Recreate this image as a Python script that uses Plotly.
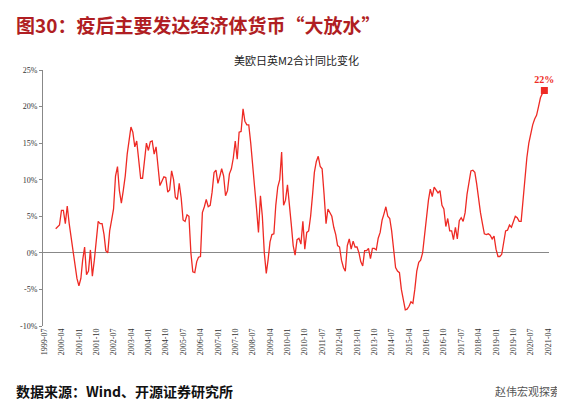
import plotly.graph_objects as go
import pandas as pd

values = [
 3.3,3.5,3.8,5.8,5.8,4.0,6.4,4.0,2.0,0.0,-2.0,-3.5,
 -4.5,-3.5,-1.0,0.8,-3.0,-2.5,0.4,-3.2,-1.0,2.0,4.3,4.0,
 4.0,2.5,0.3,0.0,3.0,4.5,6.0,10.5,11.8,8.5,6.8,8.5,
 10.5,13.5,15.5,17.2,16.5,14.5,15.3,13.0,10.2,10.2,13.0,15.0,
 14.0,15.2,15.3,13.5,14.5,12.0,9.2,9.8,10.4,10.3,8.3,8.6,
 11.2,10.0,7.6,7.3,9.5,7.5,4.5,4.3,5.2,5.0,0.0,-2.6,
 -2.7,-1.2,-0.6,-0.5,5.5,6.3,7.3,6.3,6.5,8.3,11.0,11.3,
 9.5,10.5,11.5,10.5,7.8,8.5,10.8,11.5,13.0,15.3,12.8,16.5,
 16.6,19.7,18.0,17.5,17.5,15.0,11.5,9.0,6.0,2.8,7.8,5.0,
 0.0,-2.8,-1.0,1.5,2.5,2.6,6.5,9.0,10.0,13.8,6.5,7.2,
 9.3,6.0,4.0,1.0,-0.3,1.8,2.0,1.2,4.3,0.5,2.8,3.0,
 5.0,8.0,11.0,12.5,13.2,11.8,11.5,8.0,4.0,6.0,5.5,5.0,
 3.5,2.5,1.0,0.8,-1.0,-2.0,-2.5,1.0,1.9,0.5,1.6,0.8,
 0.8,0.0,-1.2,-1.8,0.3,0.3,0.6,-0.8,0.6,0.6,0.4,2.0,
 2.8,4.5,5.3,6.3,5.0,4.7,3.0,0.0,-2.0,-2.5,-2.7,-5.0,
 -6.5,-7.8,-7.7,-7.3,-6.7,-6.9,-5.0,-2.5,-1.3,-1.0,0.0,2.5,
 5.5,7.2,8.7,7.7,9.0,8.5,8.2,8.5,6.5,6.0,3.6,4.7,
 3.0,3.0,1.8,3.5,1.9,4.4,4.8,4.3,5.5,8.0,10.0,11.2,
 11.3,11.0,9.5,7.0,5.5,4.0,2.6,2.5,2.6,2.4,1.9,2.3,
 0.5,-0.5,-0.5,-0.2,1.5,3.0,3.1,3.8,3.5,4.3,5.0,4.8,
 4.3,4.3,7.0,10.5,13.0,15.0,16.5,17.5,18.3,18.8,20.0,21.2,
 21.8,22.2]
dates = pd.date_range("2000-01-01", periods=len(values), freq="MS")
tick_dates = pd.date_range("1999-07-01", "2021-04-01", freq="9MS")
tick_text = [d.strftime("%Y-%m") for d in tick_dates]
y_ticks = [-10, -5, 0, 5, 10, 15, 20, 25]
y_text = [f"{v}%" for v in y_ticks]
red = "#EE2A24"

fig = go.Figure()
fig.add_trace(go.Scatter(x=dates, y=values, mode="lines", line=dict(color=red, width=1.3), hoverinfo="skip"))
fig.add_trace(go.Scatter(x=[dates[-1]], y=[values[-1]], mode="markers+text", text=["<b>22%</b>"],
    textposition="top center", textfont=dict(family="Liberation Serif", size=10, color=red),
    marker=dict(symbol="square", size=7, color=red), cliponaxis=False))
fig.update_layout(
    width=565, height=409, margin=dict(l=35, r=24, t=62, b=91),
    paper_bgcolor="white", plot_bgcolor="white", showlegend=False,
    font=dict(family="Liberation Serif", size=8, color="#333"),
    xaxis=dict(range=["1999-06-15", "2021-04-15"], tickvals=tick_dates, ticktext=tick_text,
               tickangle=-90, showgrid=False, zeroline=False, showline=False, ticks=""),
    yaxis=dict(range=[-10, 25], tickvals=y_ticks, ticktext=y_text, showgrid=False,
               showline=True, linecolor="#888", ticks="outside", ticklen=3, tickcolor="#888",
               zeroline=True, zerolinecolor="#888", zerolinewidth=1),
    annotations=[
        dict(text="<b>图30：疫后主要发达经济体货币“大放水”</b>", x=0, y=1.176, xref="paper", yref="paper",
             xanchor="left", yanchor="middle", showarrow=False, xshift=-29,
             font=dict(family="Noto Sans CJK SC", size=19, color="#B01E23")),
        dict(text="美欧日英M2合计同比变化", x=0.5, y=1.0, xref="paper", yref="paper", yanchor="bottom",
             showarrow=False, font=dict(family="Noto Sans CJK SC", size=11, color="#222"), yshift=0),
        dict(text="<b>数据来源：Wind、开源证券研究所</b>", x=0, y=-0.254, xref="paper", yref="paper",
             xanchor="left", yanchor="middle", showarrow=False, xshift=-29,
             font=dict(family="Noto Sans CJK SC", size=14, color="#111")),
        dict(text="赵伟宏观探索", x=1, y=-0.254, xref="paper", yref="paper",
             xanchor="right", yanchor="middle", showarrow=False, xshift=14,
             font=dict(family="Noto Sans CJK SC", size=11, color="#555")),
    ],
)
fig.write_html("out.html")
